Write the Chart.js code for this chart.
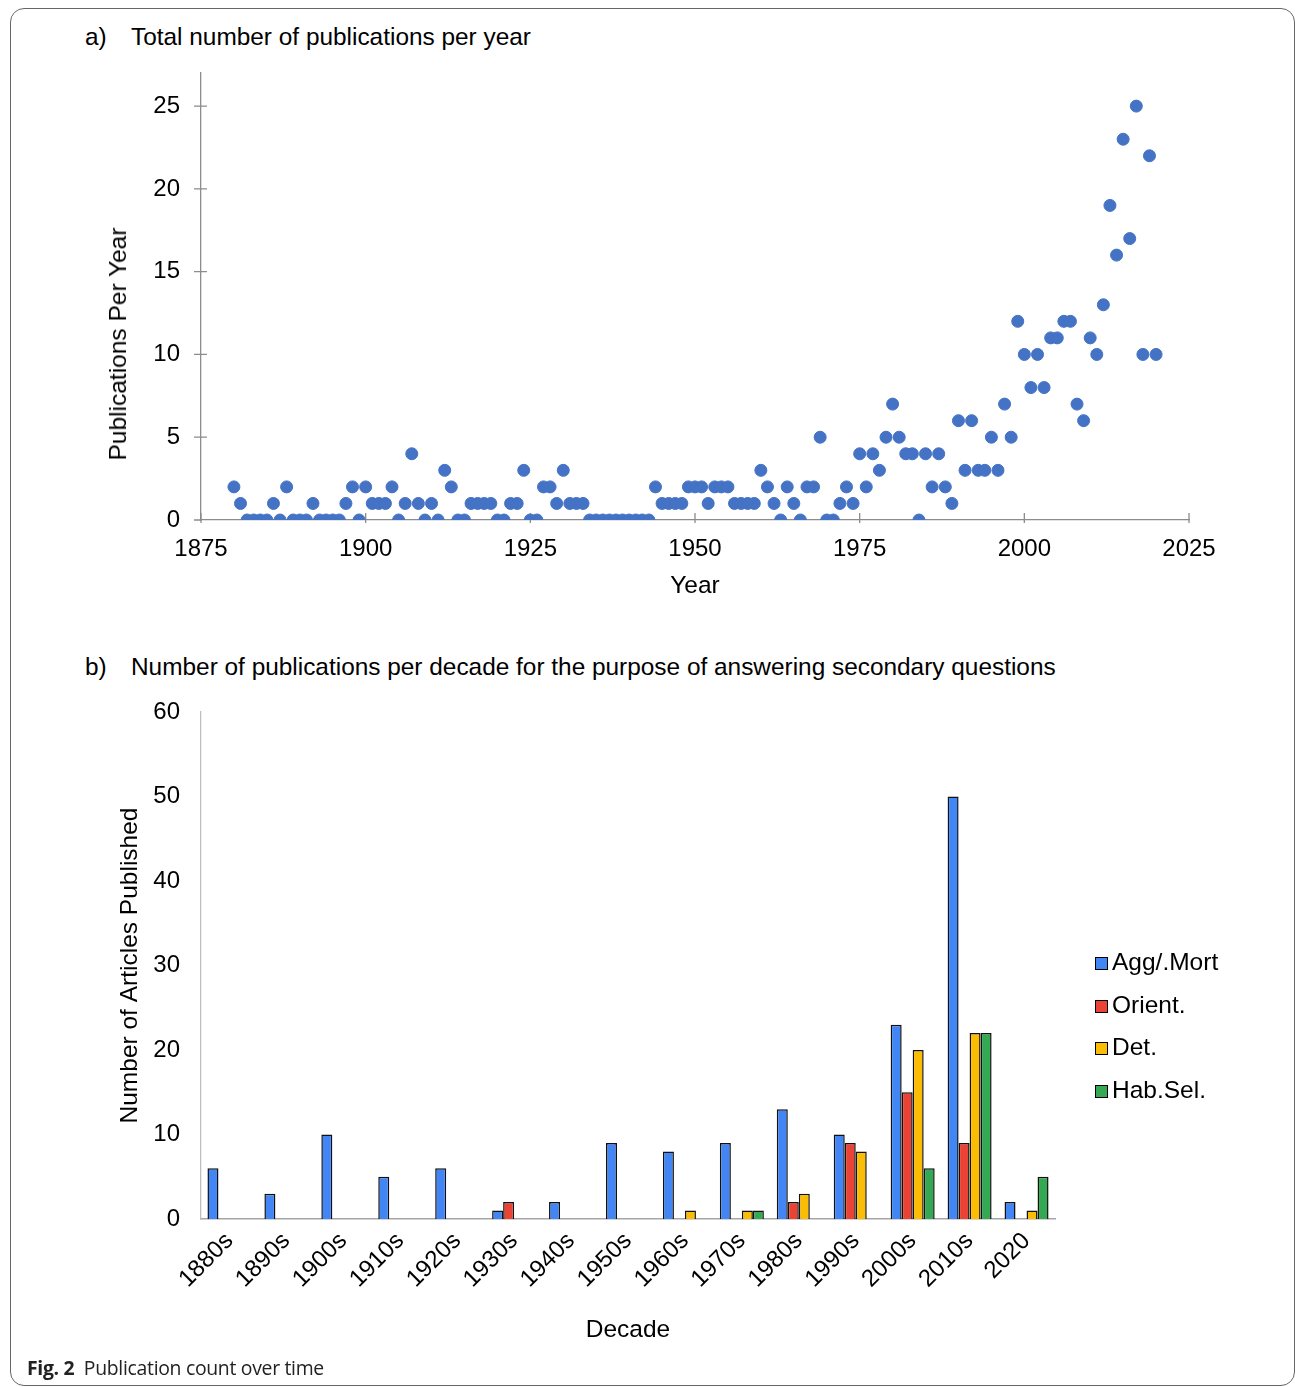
<!DOCTYPE html>
<html>
<head>
<meta charset="utf-8">
<script src="https://cdn.jsdelivr.net/npm/chart.js@4.4.1/dist/chart.umd.min.js"></script>
<style>
  body { margin: 0; background: #fff; font-family: "Liberation Sans", Arial, sans-serif; }
  #page { position: relative; width: 1295px; height: 1387px; overflow: hidden; }
  #frame { position: absolute; left: 10px; top: 8px; width: 1283px; height: 1376px; border: 1px solid #666; border-radius: 14px; }
  .ptitle { position: absolute; left: 85px; font-size: 24.4px; color: #000; white-space: nowrap; }
  .ptitle span { display: inline-block; width: 46px; }
  canvas { position: absolute; left: 0; }
  #ytitle1 { position: absolute; left: 118px; top: 344px; font-size: 24.5px; white-space: nowrap;
             transform: translate(-50%, -50%) rotate(-90deg); }
  #legend { position: absolute; left: 1095px; top: 948px; font-size: 24.5px; }
  #legend div { height: 42.5px; line-height: 28px; white-space: nowrap; }
  #legend i { display: inline-block; width: 11px; height: 11px; border: 1.5px solid #000; margin-right: 4px; vertical-align: 0px; }
  #caption { position: absolute; left: 27px; top: 1354px; font-family: "Open Sans", "Noto Sans", sans-serif; font-size: 19.4px; color: #222; letter-spacing: -0.3px; }
</style>
</head>
<body>
<div id="page">
  <div id="frame"></div>
  <div class="ptitle" style="top:23px"><span>a)</span>Total number of publications per year</div>
  <div class="ptitle" style="top:653px"><span>b)</span>Number of publications per decade for the purpose of answering secondary questions</div>
  <canvas id="c1" width="1295" height="560" style="top:60px"></canvas>
  <div id="ytitle1">Publications Per Year</div>
  <canvas id="c2" width="1295" height="680" style="top:690px"></canvas>
  <div id="legend"></div>
  <div id="caption"><b>Fig. 2</b>&nbsp; Publication count over time</div>
</div>
<script>
// a) publications per year
var years = [
  1880,1881,1882,1883,1884,1885,1886,1887,1888,1889,
  1890,1891,1892,1893,1894,1895,1896,1897,1898,1899,
  1900,1901,1902,1903,1904,1905,1906,1907,1908,1909,
  1910,1911,1912,1913,1914,1915,1916,1917,1918,1919,
  1920,1921,1922,1923,1924,1925,1926,1927,1928,1929,
  1930,1931,1932,1933,1934,1935,1936,1937,1938,1939,
  1940,1941,1942,1943,1944,1945,1946,1947,1948,1949,
  1950,1951,1952,1953,1954,1955,1956,1957,1958,1959,
  1960,1961,1962,1963,1964,1965,1966,1967,1968,1969,
  1970,1971,1972,1973,1974,1975,1976,1977,1978,1979,
  1980,1981,1982,1983,1984,1985,1986,1987,1988,1989,
  1990,1991,1992,1993,1994,1995,1996,1997,1998,1999,
  2000,2001,2002,2003,2004,2005,2006,2007,2008,2009,
  2010,2011,2012,2013,2014,2015,2016,2017,2018,2019,
  2020
];
var pubsPerYear = [
  2,1,0,0,0,0,1,0,2,0,
  0,0,1,0,0,0,0,1,2,0,
  2,1,1,1,2,0,1,4,1,0,
  1,0,3,2,0,0,1,1,1,1,
  0,0,1,1,3,0,0,2,2,1,
  3,1,1,1,0,0,0,0,0,0,
  0,0,0,0,2,1,1,1,1,2,
  2,2,1,2,2,2,1,1,1,1,
  3,2,1,0,2,1,0,2,2,5,
  0,0,1,2,1,4,2,4,3,5,
  7,5,4,4,0,4,2,4,2,1,
  6,3,6,3,3,5,3,7,5,12,
  10,8,10,8,11,11,12,12,7,6,
  11,10,13,19,16,23,17,25,10,22,
  10
];
var yearTicks = [1875, 1900, 1925, 1950, 1975, 2000, 2025];

// b) publications per decade
var decades = ["1880s","1890s","1900s","1910s","1920s","1930s","1940s","1950s","1960s","1970s","1980s","1990s","2000s","2010s","2020"];
var aggMort = [6, 3, 10, 5, 6, 1, 2, 9, 8, 9, 13, 10, 23, 50, 2];
var orient  = [0, 0, 0, 0, 0, 2, 0, 0, 0, 0, 2, 9, 15, 9, 0];
var det     = [0, 0, 0, 0, 0, 0, 0, 0, 1, 1, 3, 8, 20, 22, 1];
var habSel  = [0, 0, 0, 0, 0, 0, 0, 0, 0, 1, 0, 0, 6, 22, 5];
var seriesNames = ["Agg/.Mort", "Orient.", "Det.", "Hab.Sel."];
var seriesColors = ["#4285f4", "#ea4335", "#fbbc04", "#34a853"];

Chart.defaults.font.family = "'Liberation Sans', Arial, sans-serif";
Chart.defaults.font.size = 24;
Chart.defaults.color = "#000";

var tickFont = { size: 24, lineHeight: 1.2 };
var titleFont = { size: 24.5, lineHeight: 1.2 };

// ticks that cross the axis lines like the original
var crossTicks = {
  id: "crossTicks",
  beforeDatasetsDraw: function(chart) {
    var ctx = chart.ctx, xs = chart.scales.x, ys = chart.scales.y;
    ctx.save();
    ctx.strokeStyle = "#8c8c8c";
    ctx.lineWidth = 1.3;
    ctx.beginPath();
    ys.ticks.forEach(function(t) {
      var y = ys.getPixelForValue(t.value);
      ctx.moveTo(xs.left - 7, y);
      ctx.lineTo(xs.left + (t.value === 0 ? 0 : 6), y);
    });
    xs.ticks.forEach(function(t) {
      var x = xs.getPixelForValue(t.value);
      ctx.moveTo(x, ys.bottom - 7);
      ctx.lineTo(x, ys.bottom + 3);
    });
    ctx.stroke();
    ctx.restore();
  }
};

var points = years.map(function(y, i) { return { x: y, y: pubsPerYear[i] }; });

new Chart(document.getElementById("c1"), {
  type: "scatter",
  data: {
    datasets: [{
      data: points,
      backgroundColor: "#4472c4",
      borderColor: "#4472c4",
      borderWidth: 1,
      pointRadius: 6,
      pointHoverRadius: 6
    }]
  },
  options: {
    responsive: false,
    animation: false,
    layout: { padding: { top: 13, right: 106, left: 0, bottom: 0 } },
    plugins: { legend: { display: false }, tooltip: { enabled: false } },
    scales: {
      x: {
        type: "linear",
        min: 1875, max: 2025,
        afterBuildTicks: function(s) { s.ticks = yearTicks.map(function(v) { return { value: v }; }); },
        afterFit: function(s) { s.height = 100; s.paddingLeft = 0; s.paddingRight = 0; },
        grid: { display: false, drawTicks: false },
        border: { display: true, color: "#8c8c8c", width: 1.3 },
        ticks: { padding: 15, font: tickFont, maxRotation: 0, callback: function(v) { return String(v); } },
        title: { display: true, text: "Year", font: titleFont, padding: { top: 0, bottom: 19 } }
      },
      y: {
        min: 0, max: 27,
        afterBuildTicks: function(s) { s.ticks = s.ticks.filter(function(t) { return t.value % 5 === 0; }); },
        afterFit: function(s) { s.width = 201; s.paddingTop = 0; s.paddingBottom = 0; },
        grid: { display: false, drawTicks: false },
        border: { display: true, color: "#8c8c8c", width: 1.3 },
        ticks: { stepSize: 5, padding: 21, font: tickFont }
      }
    }
  },
  plugins: [crossTicks]
});

var barSets = [aggMort, orient, det, habSel].map(function(vals, i) {
  return {
    label: seriesNames[i],
    data: vals,
    backgroundColor: seriesColors[i],
    borderColor: "#111",
    borderWidth: 1.5,
    categoryPercentage: 0.773,
    barPercentage: 1.0
  };
});

new Chart(document.getElementById("c2"), {
  type: "bar",
  data: { labels: decades, datasets: barSets },
  options: {
    responsive: false,
    animation: false,
    layout: { padding: { top: 22, right: 240, left: 0, bottom: 0 } },
    plugins: { legend: { display: false }, tooltip: { enabled: false } },
    scales: {
      x: {
        afterFit: function(s) { s.height = 151; s.paddingLeft = 0; s.paddingRight = 0; },
        grid: { display: false, drawTicks: false },
        border: { display: true, color: "#a6a6a6", width: 1.5 },
        ticks: { padding: 8, font: tickFont, minRotation: 45, maxRotation: 45, autoSkip: false },
        title: { display: true, text: "Decade", font: titleFont, padding: { top: 0, bottom: 25 } }
      },
      y: {
        min: 0, max: 60,
        afterFit: function(s) { s.width = 201; s.paddingTop = 0; s.paddingBottom = 0; },
        grid: { display: false, drawTicks: false },
        border: { display: true, color: "#bfbfbf", width: 1.3 },
        ticks: { stepSize: 10, padding: 21, font: tickFont },
        title: { display: true, text: "Number of Articles Published", font: titleFont, padding: { top: 116, bottom: 0 } }
      }
    }
  }
});

// legend, same look as the Excel one
var legendHtml = "";
for (var i = 0; i < seriesNames.length; i++) {
  legendHtml += "<div><i style='background:" + seriesColors[i] + "'></i>" + seriesNames[i] + "</div>";
}
document.getElementById("legend").innerHTML = legendHtml;
</script>
</body>
</html>
